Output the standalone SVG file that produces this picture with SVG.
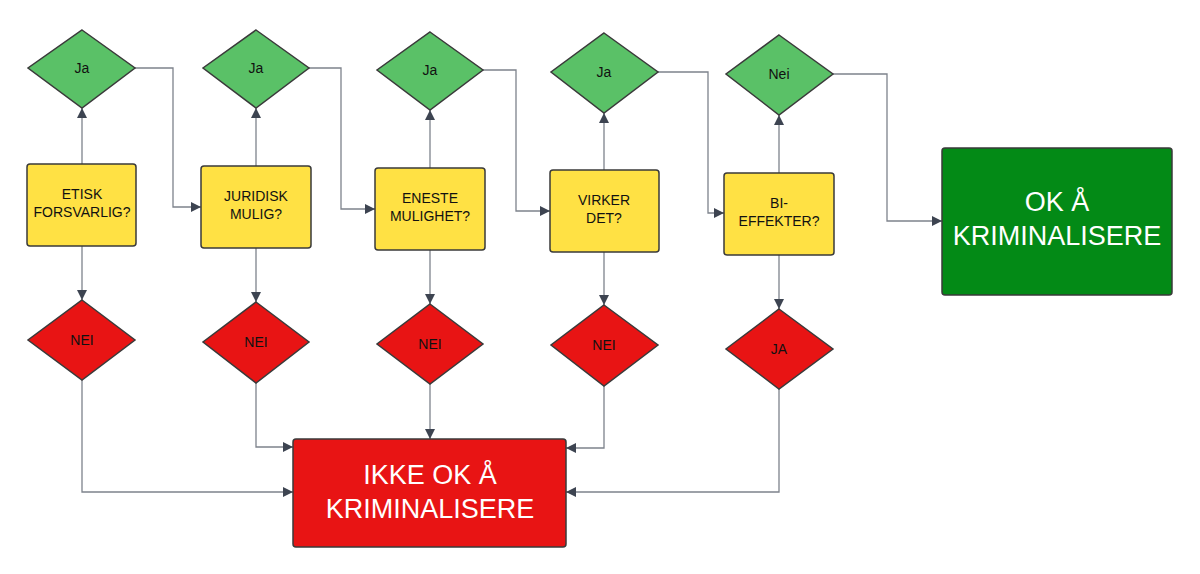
<svg xmlns="http://www.w3.org/2000/svg" width="1200" height="574" viewBox="0 0 1200 574">
<defs>
<marker id="ar" viewBox="0 0 10 10" refX="10" refY="5" markerWidth="10" markerHeight="10" markerUnits="userSpaceOnUse" orient="auto"><path d="M0,0 L10,5 L0,10 z" fill="#3d4451"/></marker>
<style>
.g{fill:#5ac167;stroke:#3a3a3a;stroke-width:1.5}
.r{fill:#e81414;stroke:#3a3a3a;stroke-width:1.5}
.y{fill:#ffe144;stroke:#3a3a3a;stroke-width:1.5}
.t{font-family:"Liberation Sans",Arial,sans-serif;font-size:14px;fill:#111;text-anchor:middle}
.big{font-family:"Liberation Sans",Arial,sans-serif;font-size:27px;fill:#fff;text-anchor:middle}
.c{fill:none;stroke:#7d838c;stroke-width:1.3;marker-end:url(#ar)}
</style>
</defs>
<rect width="1200" height="574" fill="#fff"/>
<g id="connectors">
<path class="c" d="M82,164 V108"/><path class="c" d="M82,246 V300"/>
<path class="c" d="M256,166 V108"/><path class="c" d="M256,248 V302"/>
<path class="c" d="M430,168 V110"/><path class="c" d="M430,250 V304"/>
<path class="c" d="M604,170 V113"/><path class="c" d="M604,252 V305"/>
<path class="c" d="M779,173 V115"/><path class="c" d="M779,255 V309"/>
<path class="c" d="M135,68 H173 V207 H201"/>
<path class="c" d="M309,68 H341 V209 H375"/>
<path class="c" d="M483,70 H516 V211 H550"/>
<path class="c" d="M658,72 H708 V213 H724"/>
<path class="c" d="M833,74 H887 V221 H942"/>
<path class="c" d="M82,380 V492 H293"/>
<path class="c" d="M256,383 V447 H293"/>
<path class="c" d="M430,384 V439"/>
<path class="c" d="M604,386 V448 H566"/>
<path class="c" d="M779,389 V492 H566"/>
</g>
<g id="ja1"><path class="g" d="M82,30 L135,68 L82,108 L28,68 Z"/><text class="t" x="82" y="73">Ja</text></g>
<g id="ja2"><path class="g" d="M256,30 L309,68 L256,108 L203,68 Z"/><text class="t" x="256" y="73">Ja</text></g>
<g id="ja3"><path class="g" d="M430,32 L483,70 L430,110 L377,70 Z"/><text class="t" x="430" y="75">Ja</text></g>
<g id="ja4"><path class="g" d="M604,33 L658,72 L604,113 L551,72 Z"/><text class="t" x="604" y="77">Ja</text></g>
<g id="nei5"><path class="g" d="M779,35 L833,74 L779,115 L726,74 Z"/><text class="t" x="779" y="79">Nei</text></g>
<g id="q1"><rect class="y" x="27" y="164" width="109" height="82" rx="3"/><text class="t" x="82" y="199">ETISK</text><text class="t" x="82" y="217">FORSVARLIG?</text></g>
<g id="q2"><rect class="y" x="201" y="166" width="110" height="82" rx="3"/><text class="t" x="256" y="201">JURIDISK</text><text class="t" x="256" y="219">MULIG?</text></g>
<g id="q3"><rect class="y" x="375" y="168" width="110" height="82" rx="3"/><text class="t" x="430" y="203">ENESTE</text><text class="t" x="430" y="221">MULIGHET?</text></g>
<g id="q4"><rect class="y" x="550" y="170" width="109" height="82" rx="3"/><text class="t" x="604" y="205">VIRKER</text><text class="t" x="604" y="223">DET?</text></g>
<g id="q5"><rect class="y" x="724" y="173" width="110" height="82" rx="3"/><text class="t" x="779" y="208">BI-</text><text class="t" x="779" y="226">EFFEKTER?</text></g>
<g id="n1"><path class="r" d="M82,300 L135,340 L82,380 L28,340 Z"/><text class="t" x="82" y="345">NEI</text></g>
<g id="n2"><path class="r" d="M256,302 L309,342 L256,383 L203,342 Z"/><text class="t" x="256" y="347">NEI</text></g>
<g id="n3"><path class="r" d="M430,304 L483,344 L430,384 L377,344 Z"/><text class="t" x="430" y="349">NEI</text></g>
<g id="n4"><path class="r" d="M604,305 L658,345 L604,386 L551,345 Z"/><text class="t" x="604" y="350">NEI</text></g>
<g id="n5"><path class="r" d="M779,309 L833,349 L779,389 L726,349 Z"/><text class="t" x="779" y="354">JA</text></g>
<g id="ok"><rect x="942" y="148" width="230" height="147" rx="3" fill="#038a16" stroke="#3a3a3a" stroke-width="1.5"/><text class="big" x="1057" y="211">OK Å</text><text class="big" x="1057" y="245">KRIMINALISERE</text></g>
<g id="ikke"><rect x="293" y="439" width="273" height="108" rx="3" fill="#e81414" stroke="#3a3a3a" stroke-width="1.5"/><text class="big" x="430" y="484">IKKE OK Å</text><text class="big" x="430" y="518">KRIMINALISERE</text></g>
</svg>
